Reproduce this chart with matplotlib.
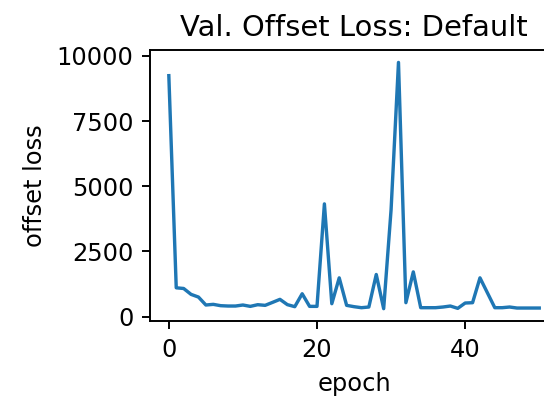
import matplotlib
matplotlib.use("Agg")
import matplotlib.pyplot as plt
from matplotlib.ticker import MultipleLocator

# validation offset loss per epoch
epochs = list(range(51))
offset_loss = [
    9245, 1106, 1080, 854, 751, 446, 471, 420, 407, 407,
    446, 394, 458, 433, 547, 663, 460, 382, 878, 394,
    394, 4325, 496, 1488, 433, 382, 343, 369, 1617, 305,
    4100, 9752, 535, 1717, 343, 343, 343, 369, 407, 318,
    522, 535, 1488, 916, 343, 343, 369, 330, 330, 330,
    330,
]


def main():
    dpi = 174
    fig = plt.figure(figsize=(544 / dpi, 396 / dpi), dpi=dpi)
    # the original image is cropped on the right, so the axes runs past the edge
    ax = fig.add_axes([0.2763, 0.1894, 0.749, 0.684])
    ax.plot(epochs, offset_loss, linewidth=1.4)
    ax.xaxis.set_major_locator(MultipleLocator(20))
    ax.yaxis.set_major_locator(MultipleLocator(2500))
    ax.set_title("Val. Offset Loss: Default")
    ax.set_xlabel("epoch")
    ax.set_ylabel("offset loss")
    fig.savefig("out.png", dpi=dpi)


if __name__ == "__main__":
    main()
